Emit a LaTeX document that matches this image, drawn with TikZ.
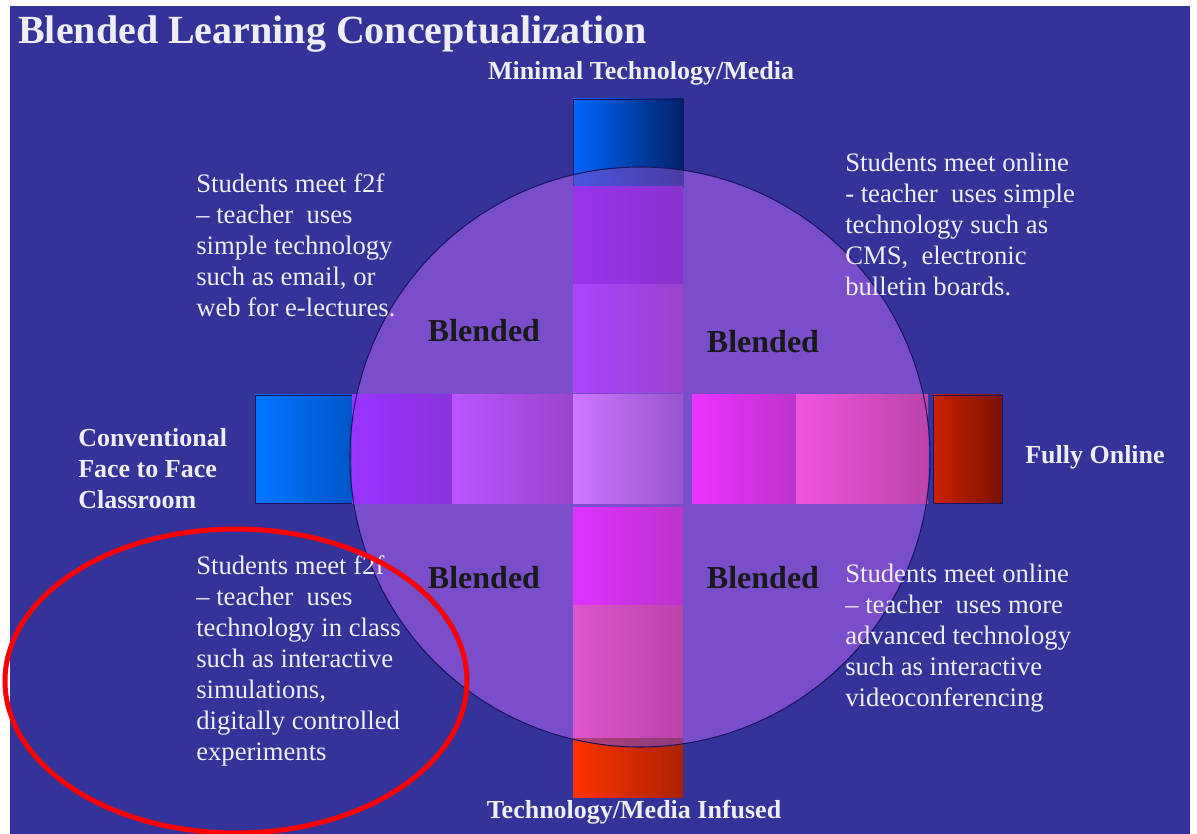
\documentclass[tikz,border=0pt]{standalone}
\usepackage{fontspec}
\setmainfont{Liberation Serif}

\definecolor{slide}{HTML}{333399}
\definecolor{disc}{HTML}{7A4DCB}
\definecolor{rim}{HTML}{1C1460}
\definecolor{ink}{HTML}{EEEEF4}

\tikzset{
  quad/.style={text=ink, font=\fontsize{20}{23.25}\selectfont, align=left, anchor=west, inner sep=0pt},
  axis/.style={text=ink, font=\fontsize{19.5}{23.25}\selectfont\bfseries, align=left, inner sep=0pt},
  blend/.style={text=black!90, font=\fontsize{24}{28}\selectfont\bfseries, inner sep=0pt},
  endbox/.style={draw=rim, thin}
}

\begin{document}
\begin{tikzpicture}[x=0.75pt, y=-0.75pt]
\useasboundingbox (0,0) rectangle (1197,834);
\fill[white] (0,0) rectangle (1197,834);
\fill[slide] (10,6) rectangle (1190,834);

% the disc, then the four end boxes partly under it
\fill[disc] (640,457) circle [radius=290];
\shade[endbox, left color={rgb,255:red,0;green,102;blue,255}, right color={rgb,255:red,0;green,34;blue,102}] (573,99) rectangle (683,187);
\shade[endbox, left color={rgb,255:red,0;green,119;blue,255}, right color={rgb,255:red,0;green,85;blue,200}] (255,395) rectangle (352,503);
\shade[endbox, left color={rgb,255:red,204;green,34;blue,0}, right color={rgb,255:red,119;green,17;blue,0}] (933,395) rectangle (1002,503);
\shade[left color={rgb,255:red,255;green,51;blue,0}, right color={rgb,255:red,170;green,34;blue,0}] (573,737) rectangle (683,797);
\fill[disc, fill opacity=0.6] (640,457) circle [radius=290];

% horizontal row of cells
\foreach \a/\b/\lc/\rc in {352/452/9933FF/8A33DD, 452/573/BB55FF/9944CC, 573/683/CC77FF/9955CC,
                           692/796/EE33FF/BB33CC, 796/928/EE55DD/BB44AA}{
  \definecolor{lft}{HTML}{\lc}\definecolor{rgt}{HTML}{\rc}
  \shade[left color=lft, right color=rgt] (\a,395) rectangle (\b,503);
}

% vertical column of cells
\foreach \a/\b/\lc/\rc in {187/285/9933EE/8833CC, 285/393/AA44FF/9944CC,
                           507/605/DD33FF/BB33CC, 605/737/DD55CC/BB44AA}{
  \definecolor{lft}{HTML}{\lc}\definecolor{rgt}{HTML}{\rc}
  \shade[left color=lft, right color=rgt] (573,\a) rectangle (683,\b);
}

\draw[rim, line width=0.8pt] (640,457) circle [radius=290];

\node[anchor=base west, text=ink, font=\fontsize{30}{35}\selectfont\bfseries, inner sep=0pt] (title) at (18,44) {Blended Learning Conceptualization};

\node[axis] (top) at (641,73) {Minimal Technology/Media};
\node[axis] (bottom) at (634,812) {Technology/Media Infused};
\node[axis, anchor=west] (left) at (78,469) {Conventional\\Face to Face\\Classroom};
\node[axis, anchor=west] (right) at (1025,457) {Fully Online};

\node[blend] (btl) at (484,331) {Blended};
\node[blend] (btr) at (763,342) {Blended};
\node[blend] (bbl) at (484,578) {Blended};
\node[blend] (bbr) at (763,578) {Blended};

\node[quad] (tl) at (196,245) {Students meet f2f\\-- teacher\ \ uses\\simple technology\\such as email, or\\web for e-lectures.};
\node[quad] (tr) at (845,224) {Students meet online\\- teacher\ \ uses simple\\technology such as\\CMS,\ \ electronic\\bulletin boards.};
\node[quad] (bl) at (196,661) {Students meet f2f\\-- teacher\ \ uses\\technology in class\\such as interactive\\simulations,\\digitally controlled\\experiments};
\node[quad] (br) at (845,638) {Students meet online\\-- teacher\ \ uses more\\advanced technology\\such as interactive\\videoconferencing};

% marker round the lower left quadrant
\draw[red, line width=3.75pt] (236,681) ellipse [x radius=231, y radius=152];
\end{tikzpicture}
\end{document}
